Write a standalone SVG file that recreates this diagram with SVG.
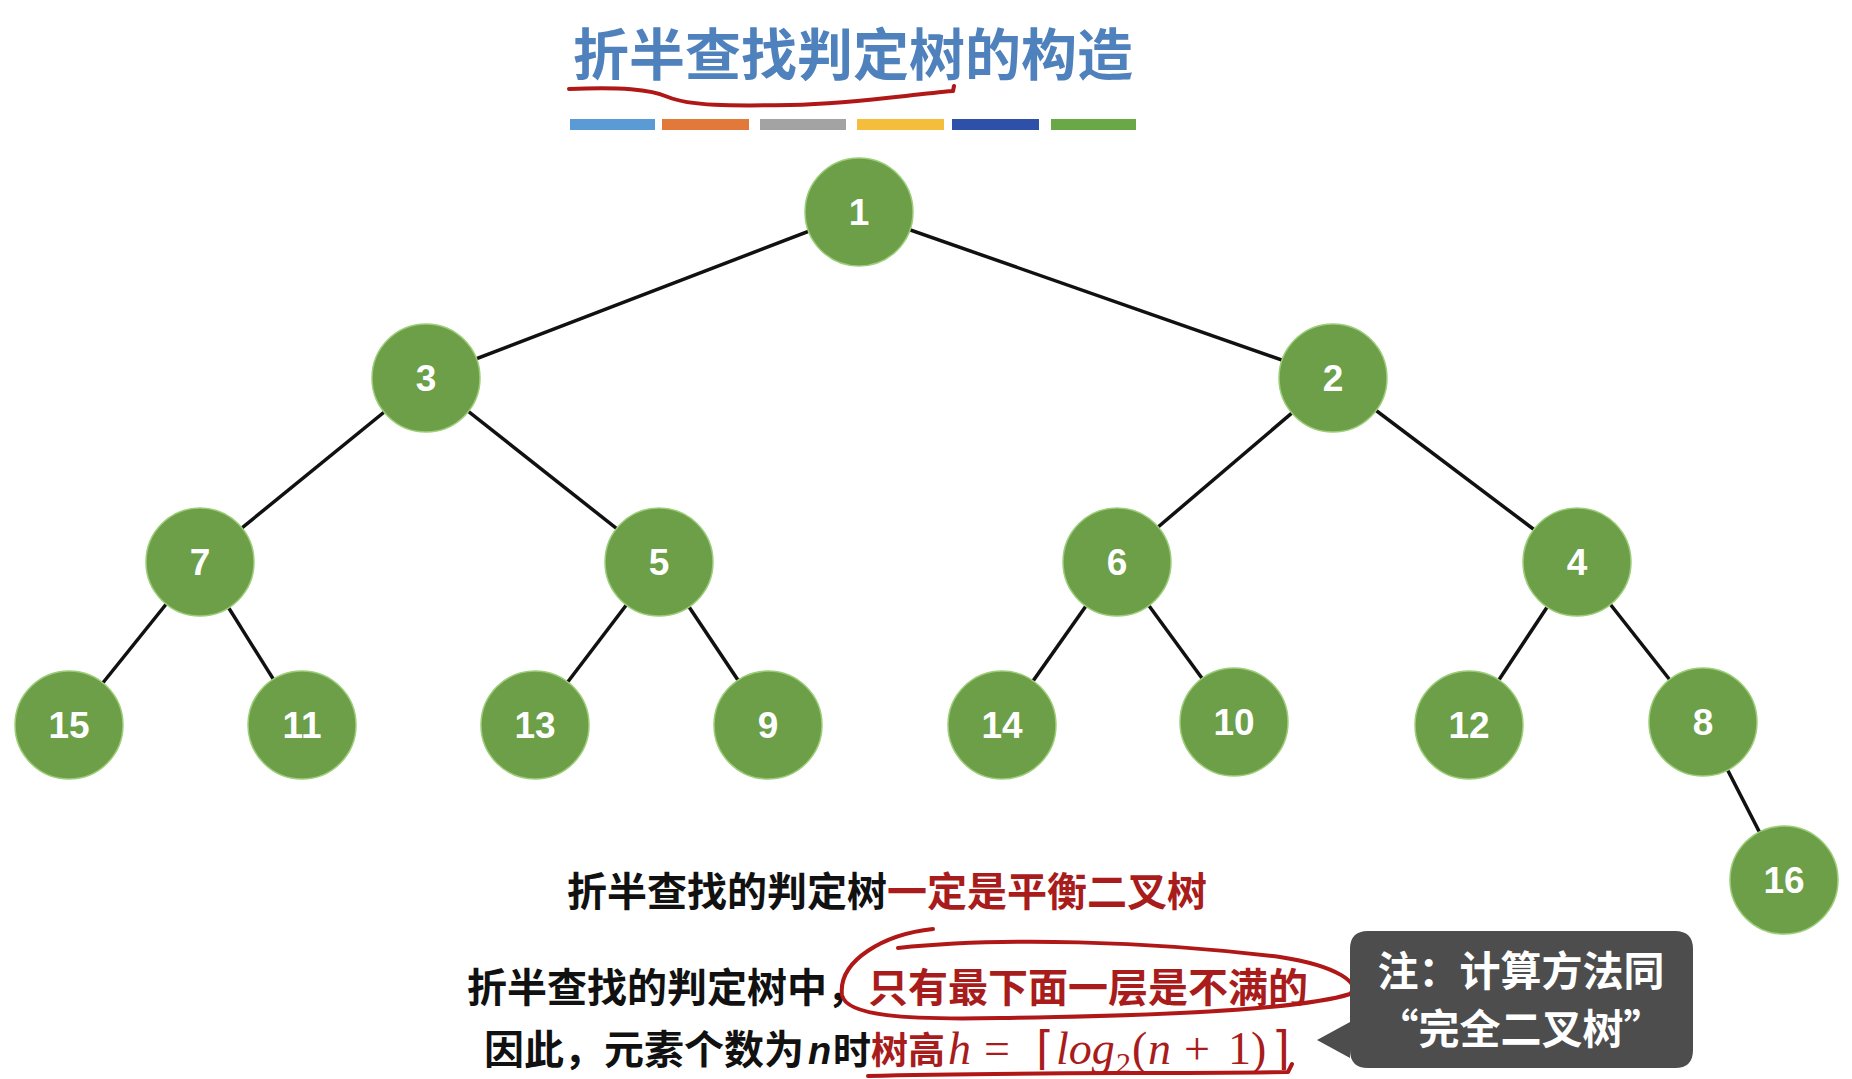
<svg xmlns="http://www.w3.org/2000/svg" width="1852" height="1079" viewBox="0 0 1852 1079">
<defs>
<style>
.edge{stroke:#111;stroke-width:3.5;fill:none}
.node circle{fill:#6c9f48;stroke:#9ccd78;stroke-width:1.5}
.node text{font-family:"Liberation Sans",Arial,sans-serif;font-weight:bold;font-size:37px;fill:#fff;text-anchor:middle}
.cjk{font-family:"Noto Sans CJK SC","Noto Sans",sans-serif;font-weight:bold}
.blk{fill:#111}
.red{fill:#a81c1c}
.math{font-family:"Liberation Serif","Times New Roman",serif;fill:#a81c1c}
.ink{stroke:#b01818;stroke-width:4;fill:none;stroke-linecap:round;stroke-linejoin:round}
</style>
</defs>
<rect width="1852" height="1079" fill="#fff"/>

<g id="title">
<text x="853" y="75" class="cjk" font-size="56" fill="#4f81bd" text-anchor="middle">折半查找判定树的构造</text>
<path class="ink" d="M569 89 C620 87 650 89 668 97 C690 106 730 106 790 105 C860 103 905 95 953 91 L954 86"/>
<rect x="570" y="119" width="85" height="11" fill="#5b9bd5"/>
<rect x="662" y="119" width="87" height="11" fill="#e2793a"/>
<rect x="760" y="119" width="86" height="11" fill="#a3a3a3"/>
<rect x="857" y="119" width="87" height="11" fill="#f4bd3c"/>
<rect x="952" y="119" width="87" height="11" fill="#2f50a8"/>
<rect x="1051" y="119" width="85" height="11" fill="#6aa746"/>
</g>

<g id="connectors">
<line class="edge" x1="859" y1="212" x2="426" y2="378"/>
<line class="edge" x1="859" y1="212" x2="1333" y2="378"/>
<line class="edge" x1="426" y1="378" x2="200" y2="562"/>
<line class="edge" x1="426" y1="378" x2="659" y2="562"/>
<line class="edge" x1="1333" y1="378" x2="1117" y2="562"/>
<line class="edge" x1="1333" y1="378" x2="1577" y2="562"/>
<line class="edge" x1="200" y1="562" x2="69" y2="725"/>
<line class="edge" x1="200" y1="562" x2="302" y2="725"/>
<line class="edge" x1="659" y1="562" x2="535" y2="725"/>
<line class="edge" x1="659" y1="562" x2="768" y2="725"/>
<line class="edge" x1="1117" y1="562" x2="1002" y2="725"/>
<line class="edge" x1="1117" y1="562" x2="1234" y2="722"/>
<line class="edge" x1="1577" y1="562" x2="1469" y2="725"/>
<line class="edge" x1="1577" y1="562" x2="1703" y2="722"/>
<line class="edge" x1="1703" y1="722" x2="1784" y2="880"/>
</g>

<g id="n1" class="node"><circle cx="859" cy="212" r="54"/><text x="859" y="225">1</text></g>
<g id="n3" class="node"><circle cx="426" cy="378" r="54"/><text x="426" y="391">3</text></g>
<g id="n2" class="node"><circle cx="1333" cy="378" r="54"/><text x="1333" y="391">2</text></g>
<g id="n7" class="node"><circle cx="200" cy="562" r="54"/><text x="200" y="575">7</text></g>
<g id="n5" class="node"><circle cx="659" cy="562" r="54"/><text x="659" y="575">5</text></g>
<g id="n6" class="node"><circle cx="1117" cy="562" r="54"/><text x="1117" y="575">6</text></g>
<g id="n4" class="node"><circle cx="1577" cy="562" r="54"/><text x="1577" y="575">4</text></g>
<g id="n15" class="node"><circle cx="69" cy="725" r="54"/><text x="69" y="738">15</text></g>
<g id="n11" class="node"><circle cx="302" cy="725" r="54"/><text x="302" y="738">11</text></g>
<g id="n13" class="node"><circle cx="535" cy="725" r="54"/><text x="535" y="738">13</text></g>
<g id="n9" class="node"><circle cx="768" cy="725" r="54"/><text x="768" y="738">9</text></g>
<g id="n14" class="node"><circle cx="1002" cy="725" r="54"/><text x="1002" y="738">14</text></g>
<g id="n10" class="node"><circle cx="1234" cy="722" r="54"/><text x="1234" y="735">10</text></g>
<g id="n12" class="node"><circle cx="1469" cy="725" r="54"/><text x="1469" y="738">12</text></g>
<g id="n8" class="node"><circle cx="1703" cy="722" r="54"/><text x="1703" y="735">8</text></g>
<g id="n16" class="node"><circle cx="1784" cy="880" r="54"/><text x="1784" y="893">16</text></g>

<g id="notes">
<text x="567" y="906" class="cjk" font-size="40"><tspan class="blk">折半查找的判定树</tspan><tspan class="red">一定是平衡二叉树</tspan></text>
<text x="467" y="1002" class="cjk" font-size="40"><tspan class="blk">折半查找的判定树中，</tspan><tspan class="red" x="868">只有最下面一层是不满的</tspan></text>
<text x="484" y="1064" class="cjk blk" font-size="40">因此，元素个数为</text>
<text x="808" y="1064" font-family="Liberation Sans,Arial,sans-serif" font-weight="bold" font-style="italic" font-size="38" class="blk">n</text>
<text x="833" y="1064" class="cjk blk" font-size="38">时</text>
<text x="871" y="1064" class="cjk red" font-size="37">树高</text>
<text class="math" font-size="46" y="1064"><tspan x="948" font-style="italic">h</tspan><tspan x="984">=</tspan><tspan x="1036">⌈</tspan><tspan x="1056" font-style="italic">log</tspan><tspan x="1116" font-size="30" dy="9">2</tspan><tspan x="1132" dy="-9">(</tspan><tspan x="1148" font-style="italic">n</tspan><tspan x="1184">+</tspan><tspan x="1228">1)</tspan><tspan x="1272">⌉</tspan></text>
<path class="ink" d="M933 929 C885 934 838 960 842 995 C846 1016 905 1020 1000 1018 C1150 1016 1300 1010 1350 994 C1362 984 1338 966 1280 957 C1150 941 1000 937 898 948"/>
<path class="ink" d="M868 1076 C1000 1072 1150 1074 1288 1072 L1292 1064"/>
</g>

<g id="callout">
<path d="M1368 931 H1675 Q1693 931 1693 949 V1050 Q1693 1068 1675 1068 H1368 Q1350 1068 1350 1050 V1058 L1317 1040 L1350 1022 V949 Q1350 931 1368 931 Z" fill="#4d4d4d"/>
<text x="1521" y="986" class="cjk" font-size="41" fill="#fff" text-anchor="middle">注：计算方法同</text>
<text x="1521" y="1044" class="cjk" font-size="41" fill="#fff" text-anchor="middle">“完全二叉树”</text>
</g>
</svg>
